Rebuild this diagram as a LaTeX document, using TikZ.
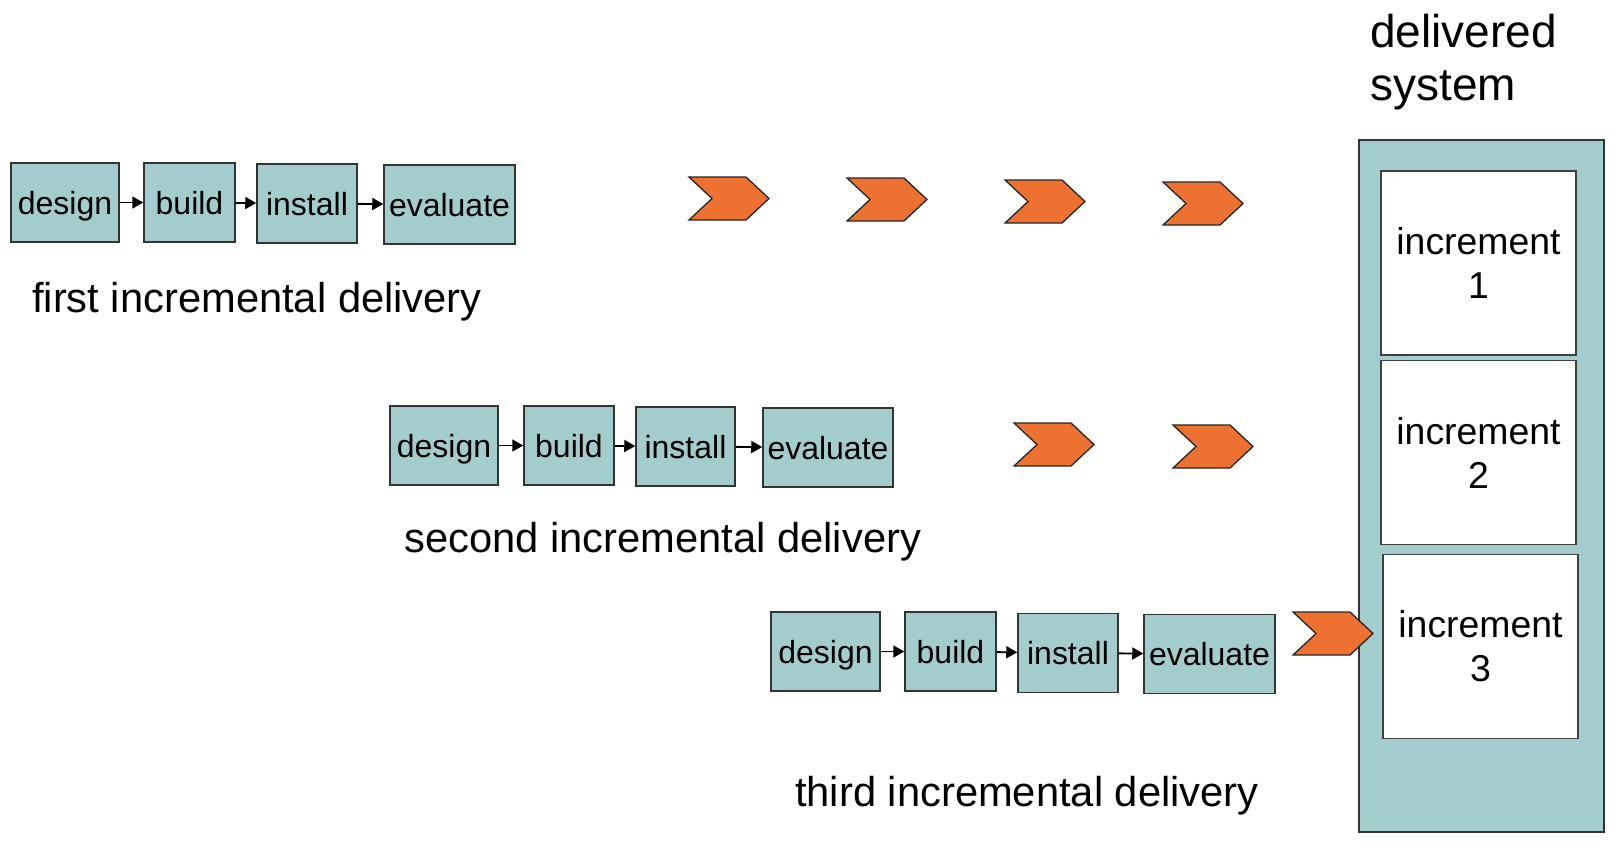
\documentclass[tikz,border=0pt]{standalone}
\usepackage{fontspec}
\setmainfont{Liberation Sans}
\usepackage{tikz}
\usetikzlibrary{arrows.meta}
\definecolor{boxteal}{RGB}{163,204,204}
\definecolor{chevorange}{RGB}{237,113,49}
\newcommand{\chev}[2]{\draw[chevron] (#1,#2) -- ++(57,0) -- ++(23,21.5) -- ++(-23,21.5) -- ++(-57,0) -- ++(23,-21.5) -- cycle;}

\begin{document}
\begin{tikzpicture}[x=1pt,y=-1pt,
  stage/.style={draw=black!80,line width=1.5pt,fill=boxteal,minimum height=79pt,inner sep=0pt,text height=28pt,text depth=5pt,font=\fontsize{32}{38}\selectfont},
  flow/.style={line width=1.8pt,-{Triangle[length=11pt,width=12pt]}},
  chevron/.style={draw=black!85,line width=1.3pt,fill=chevorange},
  caption/.style={anchor=base west,inner sep=0pt,font=\fontsize{41.7}{50}\selectfont},
  increment/.style={draw=black!75,line width=1.5pt,fill=white,minimum width=195pt,minimum height=184pt,inner sep=0pt,align=center,font=\fontsize{37.4}{44}\selectfont}]
  \useasboundingbox (0,0) rectangle (1618,852);
  % delivered system
  \node (sys) [draw=black!80,line width=1.5pt,fill=boxteal,minimum width=245pt,minimum height=692pt] at (1481.5,486) {};
  \node (sysl) [anchor=north west,inner sep=0pt,align=left,font=\fontsize{46}{53}\selectfont] at (1370,13.5) {delivered\\system};
  \node (inc1) [increment] at (1478.5,263) {increment\\1};
  \node (inc2) [increment] at (1478.5,452.5) {increment\\2};
  \node (inc3) [increment] at (1480.5,646.5) {increment\\3};
  % first
  \node (d1) [stage,minimum width=108pt] at (65,202.5) {design};
  \node (b1) [stage,minimum width=91pt] at (189.5,202.5) {build};
  \node (i1) [stage,minimum width=100pt] at (307,203.5) {install};
  \node (e1) [stage,minimum width=131pt] at (449.5,204.5) {evaluate};
  \node (l1) [caption] at (32,312) {first incremental delivery};
  \draw[flow] (d1) -- (b1);
  \draw[flow] (b1) -- (i1);
  \draw[flow] (i1) -- (e1);
  \chev{689}{177}
  \chev{847}{178}
  \chev{1005}{180}
  \chev{1163}{182}
  % second
  \node (d2) [stage,minimum width=108pt] at (444,445.5) {design};
  \node (b2) [stage,minimum width=90pt] at (569,445.5) {build};
  \node (i2) [stage,minimum width=99pt] at (685.5,446.5) {install};
  \node (e2) [stage,minimum width=130pt] at (828,447.5) {evaluate};
  \node (l2) [caption] at (404,552) {second incremental delivery};
  \draw[flow] (d2) -- (b2);
  \draw[flow] (b2) -- (i2);
  \draw[flow] (i2) -- (e2);
  \chev{1014}{423}
  \chev{1173}{425}
  % third
  \node (d3) [stage,minimum width=109pt] at (825.5,651.5) {design};
  \node (b3) [stage,minimum width=91pt] at (950.5,651.5) {build};
  \node (i3) [stage,minimum width=100pt] at (1068,653) {install};
  \node (e3) [stage,minimum width=131pt] at (1209.5,654) {evaluate};
  \node (l3) [caption] at (795,806) {third incremental delivery};
  \draw[flow] (d3) -- (b3);
  \draw[flow] (b3) -- (i3);
  \draw[flow] (i3) -- (e3);
  \chev{1293}{612}
\end{tikzpicture}
\end{document}
